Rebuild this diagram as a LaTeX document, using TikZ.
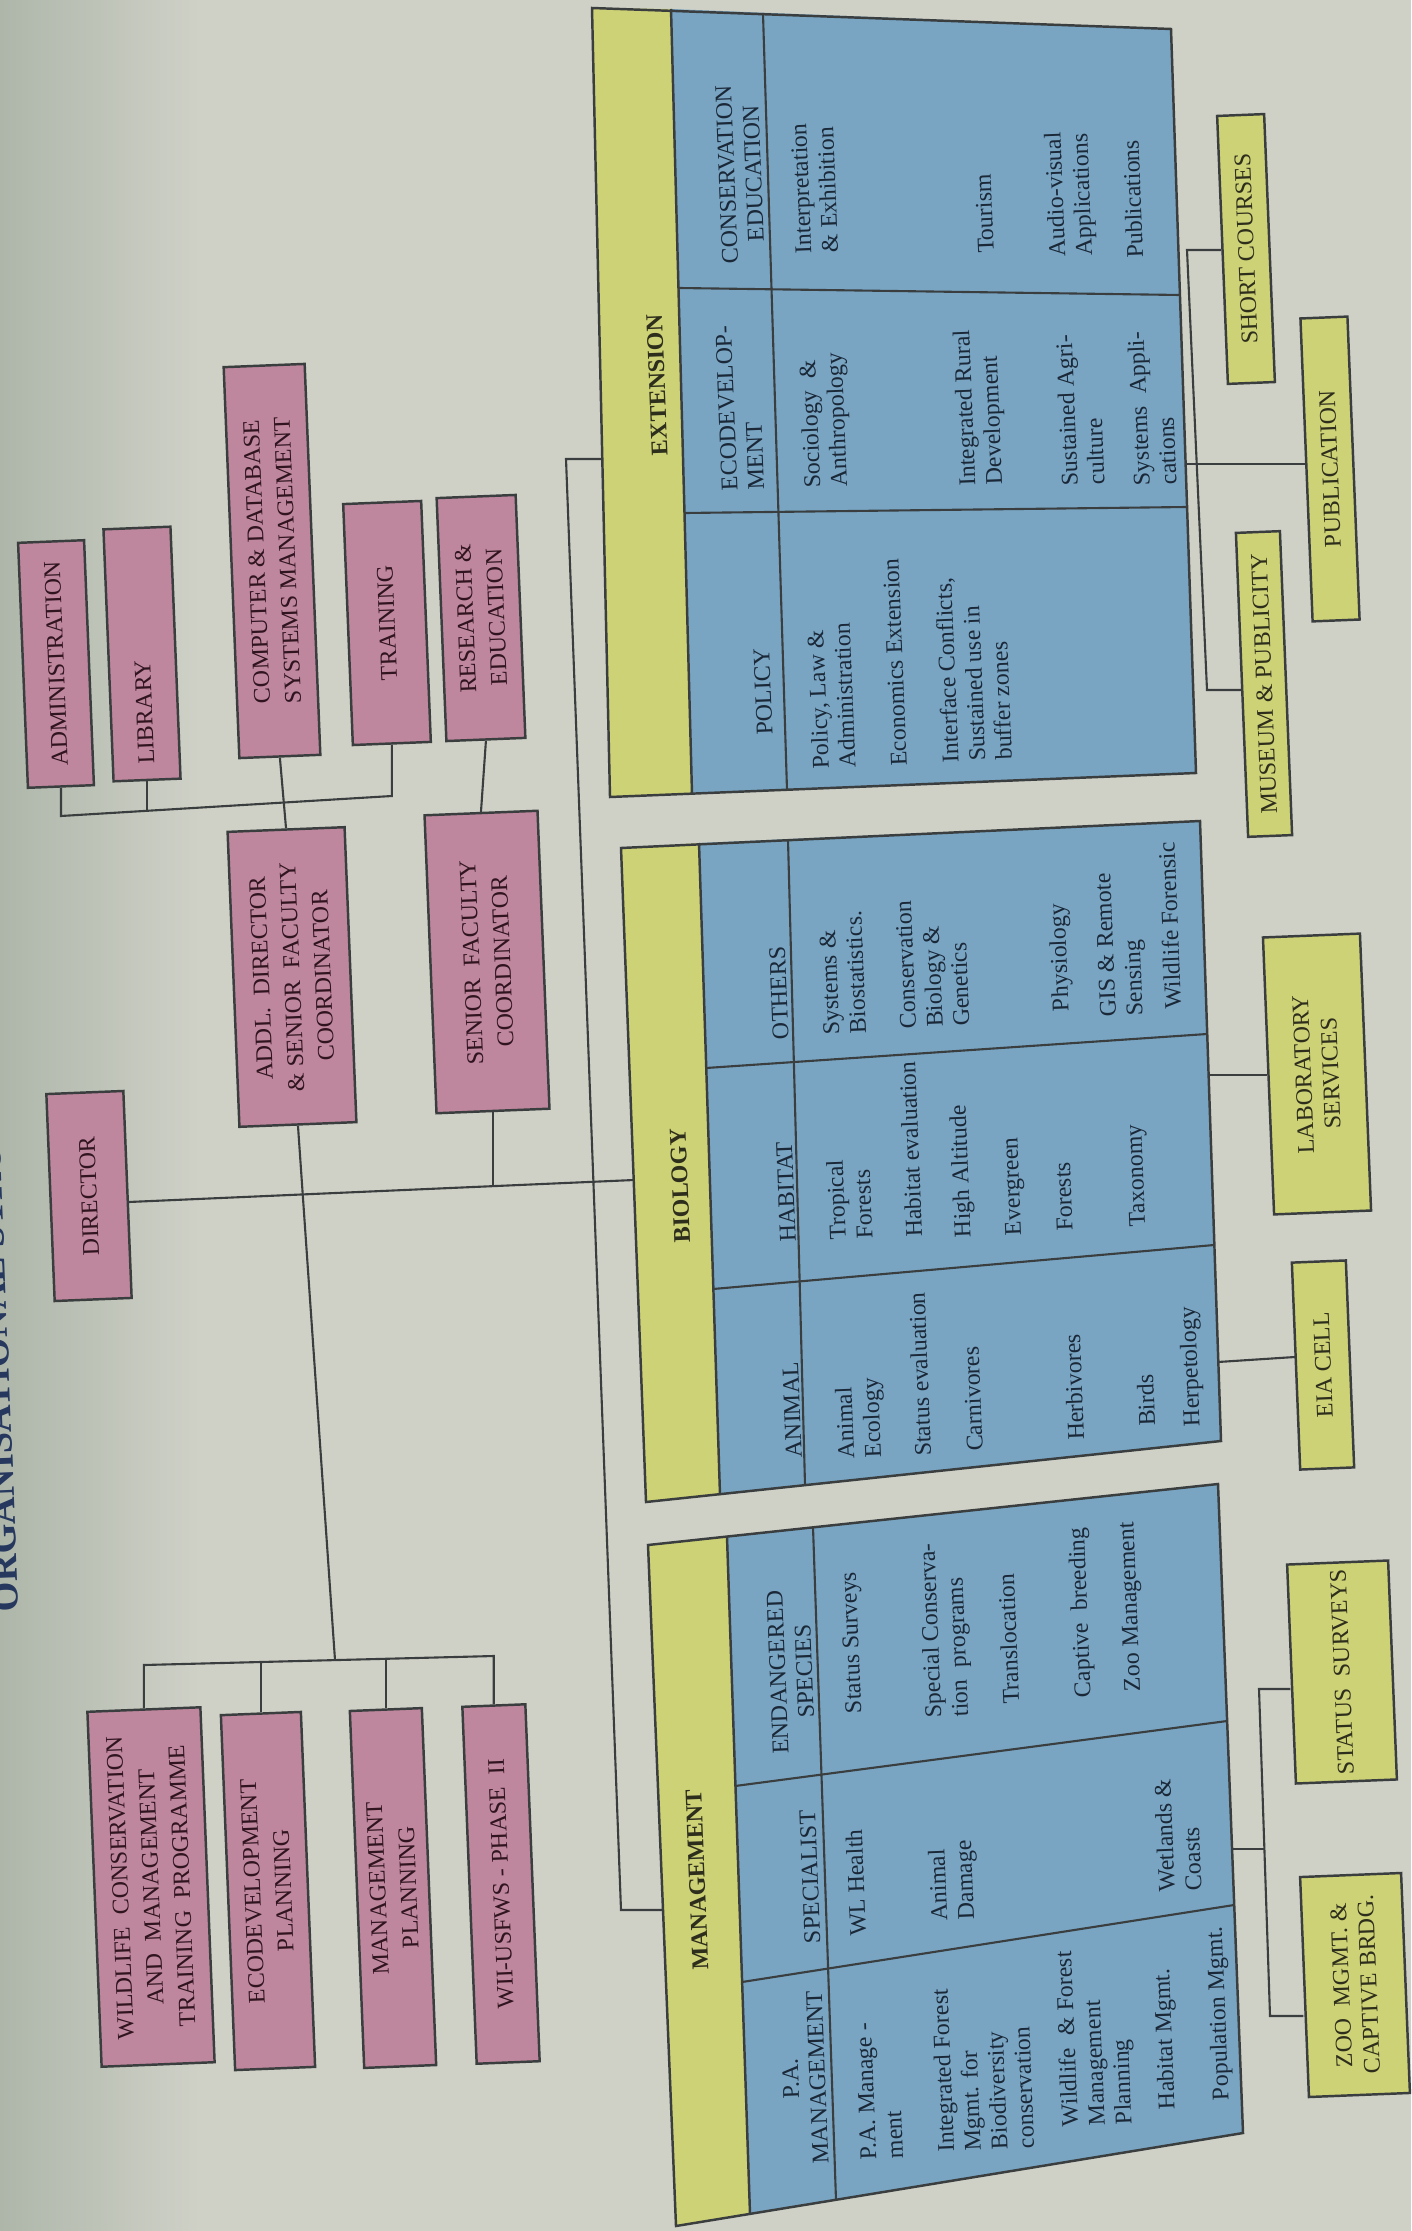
\documentclass[tikz,border=0pt]{standalone}
\usepackage{fontspec}
\setmainfont{Liberation Serif}
\definecolor{bgc}{HTML}{CFD1C7}
\definecolor{bgl}{HTML}{AEB6AA}
\definecolor{pinkc}{HTML}{BF879D}
\definecolor{ylwc}{HTML}{CDD276}
\definecolor{bluec}{HTML}{79A5C3}
\definecolor{linec}{HTML}{3A3E3E}
\definecolor{pinktext}{HTML}{30141F}
\definecolor{bluetext}{HTML}{1A2838}
\definecolor{ylwtext}{HTML}{2E2E1C}
\definecolor{titlec}{HTML}{26385E}
\tikzset{
  ln/.style={draw=linec, line width=0.6pt},
  blk/.style={draw=linec, line width=0.7pt, line join=miter},
  pinkbox/.style={draw=linec, line width=0.7pt, fill=pinkc, rotate=92.3, inner sep=0pt, align=center, text=pinktext, font=\fontsize{6.8pt}{8.8pt}\selectfont},
  ylwbox/.style={draw=linec, line width=0.7pt, fill=ylwc, rotate=92.3, inner sep=0pt, align=center, text=ylwtext, font=\fontsize{6.8pt}{7.8pt}\selectfont},
  item/.style={rotate=92.3, anchor=west, align=left, inner sep=0pt, text=bluetext, font=\fontsize{6.8pt}{7.6pt}\selectfont},
  hdr/.style={rotate=92.3, align=center, inner sep=0pt, text=bluetext, font=\fontsize{6.8pt}{7.6pt}\selectfont},
  ttl/.style={rotate=92.3, inner sep=0pt, text=ylwtext, font=\bfseries\fontsize{6.8pt}{8pt}\selectfont},
  headline/.style={rotate=92.3, anchor=base west, inner sep=0pt, text=titlec, font=\bfseries\fontsize{10.9pt}{12pt}\selectfont},
}
\begin{document}
\begin{tikzpicture}[x=0.01cm,y=-0.01cm]
\useasboundingbox (0,0) rectangle (1411,2231);
\fill[bgc] (0,0) rectangle (1411,2231);
\shade[left color=bgl, right color=bgc] (0,0) rectangle (200,2231);

% title (cut by the page edge, as in the photograph)
\node[headline] (title) at (19,1612) {ORGANISATIONAL STRUCTURE};

% ---------------- EXTENSION block ----------------
\coordinate (E1) at (592,8);
\coordinate (E2) at (671,9);
\coordinate (E3) at (1171,29);
\coordinate (E4) at (1196,773);
\coordinate (E5) at (692,794);
\coordinate (E6) at (610,797);
\fill[ylwc] (E1) -- (E2) -- (E5) -- (E6) -- cycle;
\fill[bluec] (E2) -- (E3) -- (E4) -- (E5) -- cycle;
\draw[blk] (E1) -- (E3) -- (E4) -- (E6) -- cycle;
\draw[blk] (E2) -- (E5);
\draw[ln] (763,14) -- (787,790);
\draw[ln] (679,288) -- (1180,295);
\draw[ln] (685,513) -- (1187,507);

\node[ttl] (extT) at (657,385) {EXTENSION};
\node[hdr] (extH1) at (740,174) {CONSERVATION\\EDUCATION};
\node[item] (extH2) at (743,491) {ECODEVELOP-\\MENT};
\node[hdr] (extH3) at (763,692) {POLICY};
\node[item] (x1) at (817,254) {Interpretation\\\& Exhibition};
\node[item] (x2) at (986,254) {Tourism};
\node[item] (x3) at (1073,257) {Audio-visual\\Applications};
\node[item] (x4) at (1135,259) {Publications};
\node[item] (x5) at (828,488) {Sociology \ \&\\Anthropology};
\node[item] (x6) at (983,486) {Integrated Rural\\Development};
\node[item] (x7) at (1083,486) {Sustained Agri-\\culture};
\node[item] (x8) at (1155,486) {Systems \ Appli-\\cations};
\node[item] (x9) at (834,769) {Policy, Law \&\\Administration};
\node[item] (x10) at (899,767) {Economics Extension};
\node[item] (x11) at (977,762) {Interface Conflicts,\\Sustained use in\\buffer zones};

% ---------------- BIOLOGY block ----------------
\coordinate (B1) at (621,848);
\coordinate (B2) at (699,843);
\coordinate (B3) at (1200,821);
\coordinate (B4) at (1221,1441);
\coordinate (B5) at (720,1495);
\coordinate (B6) at (646,1502);
\fill[ylwc] (B1) -- (B2) -- (B5) -- (B6) -- cycle;
\fill[bluec] (B2) -- (B3) -- (B4) -- (B5) -- cycle;
\draw[blk] (B1) -- (B3) -- (B4) -- (B6) -- cycle;
\draw[blk] (B2) -- (B5);
\draw[ln] (788,840) -- (805,1485);
\draw[ln] (706,1068) -- (1207,1034);
\draw[ln] (713,1289) -- (1214,1245);

\node[ttl] (bioT) at (680,1186) {BIOLOGY};
\node[hdr] (bH1) at (779,993) {OTHERS};
\node[hdr] (bH2) at (786,1192) {HABITAT};
\node[hdr] (bH3) at (792,1410) {ANIMAL};
\node[item] (a1) at (862,1459) {Animal\\Ecology};
\node[item] (a2) at (923,1457) {Status evaluation};
\node[item] (a3) at (975,1452) {Carnivores};
\node[item] (a4) at (1076,1441) {Herbivores};
\node[item] (a5) at (1147,1427) {Birds};
\node[item] (a6) at (1194,1427) {Herpetology};
\node[item] (h1) at (851,1240) {Tropical\\Forests};
\node[item] (h2) at (914,1238) {Habitat evaluation};
\node[item] (h3) at (965,1238) {High Altitude};
\node[item] (h4) at (1016,1236) {Evergreen};
\node[item] (h5) at (1065,1232) {Forests};
\node[item] (h6) at (1140,1227) {Taxonomy};
\node[item] (o1) at (845,1035) {Systems \&\\Biostatistics.};
\node[item] (o2) at (935,1028) {Conservation\\Biology \&\\Genetics};
\node[item] (o3) at (1063,1012) {Physiology};
\node[item] (o4) at (1124,1017) {GIS \& Remote\\Sensing};
\node[item] (o5) at (1173,1010) {Wildlife Forensic};

% ---------------- MANAGEMENT block ----------------
\coordinate (M1) at (648,1545);
\coordinate (M2) at (727,1537);
\coordinate (M3) at (1218,1484);
\coordinate (M4) at (1243,2133);
\coordinate (M5) at (750,2214);
\coordinate (M6) at (676,2226);
\fill[ylwc] (M1) -- (M2) -- (M5) -- (M6) -- cycle;
\fill[bluec] (M2) -- (M3) -- (M4) -- (M5) -- cycle;
\draw[blk] (M1) -- (M3) -- (M4) -- (M6) -- cycle;
\draw[blk] (M2) -- (M5);
\draw[ln] (813,1527) -- (836,2200);
\draw[ln] (735,1786) -- (1227,1721);
\draw[ln] (742,1982) -- (1234,1905);

\node[ttl] (mgT) at (697,1880) {MANAGEMENT};
\node[hdr] (mH1) at (791,1672) {ENDANGERED\\SPECIES};
\node[hdr] (mH2) at (810,1877) {SPECIALIST};
\node[hdr] (mH3) at (804,2078) {P.A.\\MANAGEMENT};
\node[item] (p1) at (882,2160) {P.A. Manage -\\ment};
\node[item] (p2) at (986,2151) {Integrated Forest\\Mgmt. for\\Biodiversity\\conservation};
\node[item] (p3) at (1099,2126) {Wildlife \ \& Forest\\Management\\Planning};
\node[item] (p4) at (1169,2110) {Habitat Mgmt.};
\node[item] (p5) at (1223,2101) {Population Mgmt.};
\node[item] (s1) at (858,1937) {WL Health};
\node[item] (s2) at (955,1921) {Animal\\Damage};
\node[item] (s3) at (1180,1892) {Wetlands \&\\Coasts};
\node[item] (d1) at (856,1714) {Status Surveys};
\node[item] (d2) at (949,1718) {Special Conserva-\\tion \ programs};
\node[item] (d3) at (1011,1705) {Translocation};
\node[item] (d4) at (1085,1698) {Captive \ breeding};
\node[item] (d5) at (1135,1692) {Zoo Management};

% ---------------- pink boxes ----------------
\node[pinkbox, minimum width=2.45cm, minimum height=0.66cm] (admin) at (56,664) {ADMINISTRATION};
\node[pinkbox, minimum width=2.52cm, minimum height=0.67cm, text width=2.2cm, align=left] (lib) at (142,654) {LIBRARY};
\node[pinkbox, minimum width=3.91cm, minimum height=0.81cm] (comp) at (272,561) {COMPUTER \& DATABASE\\SYSTEMS MANAGEMENT};
\node[pinkbox, minimum width=2.41cm, minimum height=0.78cm] (train) at (387,623) {TRAINING};
\node[pinkbox, minimum width=2.43cm, minimum height=0.79cm] (res) at (481,618) {RESEARCH \&\\EDUCATION};
\node[pinkbox, minimum width=2.07cm, minimum height=0.77cm] (dir) at (89,1196) {DIRECTOR};
\node[pinkbox, minimum width=2.95cm, minimum height=1.17cm] (addl) at (292,977) {ADDL. \ DIRECTOR\\\& SENIOR \ FACULTY\\COORDINATOR};
\node[pinkbox, minimum width=2.98cm, minimum height=1.13cm] (sen) at (487,962) {SENIOR \ FACULTY\\COORDINATOR};
\node[pinkbox, minimum width=3.55cm, minimum height=1.13cm] (wild) at (151,1887) {WILDLIFE \ CONSERVATION\\AND \ MANAGEMENT\\TRAINING \ PROGRAMME};
\node[pinkbox, minimum width=3.55cm, minimum height=0.80cm] (eco) at (268,1891) {ECODEVELOPMENT\\PLANNING};
\node[pinkbox, minimum width=3.57cm, minimum height=0.72cm] (mplan) at (393,1888) {MANAGEMENT\\PLANNING};
\node[pinkbox, minimum width=3.57cm, minimum height=0.63cm] (wii) at (501,1884) {WII-USFWS - PHASE \ II};

% ---------------- yellow boxes ----------------
\node[ylwbox, minimum width=2.68cm, minimum height=0.47cm] (short) at (1246,249) {SHORT COURSES};
\node[ylwbox, minimum width=3.03cm, minimum height=0.47cm] (pub) at (1330,469) {PUBLICATION};
\node[ylwbox, minimum width=3.04cm, minimum height=0.44cm] (mus) at (1264,684) {MUSEUM \& PUBLICITY};
\node[ylwbox, minimum width=2.77cm, minimum height=0.97cm] (lab) at (1317,1074) {LABORATORY\\SERVICES};
\node[ylwbox, minimum width=2.07cm, minimum height=0.54cm] (eia) at (1323,1365) {EIA CELL};
\node[ylwbox, minimum width=2.19cm, minimum height=1.01cm] (stat) at (1342,1672) {STATUS \ SURVEYS};
\node[ylwbox, minimum width=2.20cm, minimum height=1.01cm] (zoo) at (1355,1985) {ZOO \ MGMT. \&\\CAPTIVE BRDG.};

% ---------------- connectors ----------------
% top bus
\draw[ln] (admin.west) -- (admin.west |- 0,816) -- (train.west |- 0,796) -- (train.west);
\draw[ln] (lib.west) -- (lib.west |- 0,811);
\draw[ln] (comp.west) -- (addl.east);
\draw[ln] (res.west) -- (sen.east);
% director line
\coordinate (bioL) at (634,1180);
\draw[ln] (dir.south |- 0,1202) -- (bioL);
\draw[ln] (sen.west) -- (sen.west |- 0,1186);
% lower bus
\coordinate (bj) at (335,1660);
\draw[ln] (addl.west) -- (bj);
\draw[ln] (wild.east) -- (wild.east |- 0,1665) -- (wii.east |- 0,1656) -- (wii.east);
\draw[ln] (eco.east) -- (eco.east |- 0,1662);
\draw[ln] (mplan.east) -- (mplan.east |- 0,1659);
% spine to EXTENSION and MANAGEMENT
\coordinate (extL) at (602,459);
\coordinate (sp1) at (566,459);
\coordinate (sp2) at (621,1910);
\coordinate (mgL) at (663,1910);
\draw[ln] (extL) -- (sp1) -- (sp2) -- (mgL);
% EXTENSION outputs
\coordinate (sv1) at (1187,250);
\coordinate (sv2) at (1207,690);
\draw[ln] (short.north) -- (sv1) -- (sv2) -- (mus.north |- 0,690);
\coordinate (extR) at (1186,464);
\draw[ln] (extR) -- (pub.north |- 0,464);
% BIOLOGY outputs
\coordinate (bioR1) at (1209,1075);
\draw[ln] (bioR1) -- (lab.north |- 0,1075);
\coordinate (bioR2) at (1218,1362);
\draw[ln] (bioR2) -- (eia.north |- 0,1357);
% MANAGEMENT outputs
\coordinate (mgR) at (1232,1849);
\coordinate (mv0) at (1264,1849);
\coordinate (mv1) at (1259,1689);
\coordinate (mv2) at (1270,2016);
\draw[ln] (mgR) -- (mv0);
\draw[ln] (stat.north |- 0,1689) -- (mv1) -- (mv2) -- (zoo.north |- 0,2016);
\end{tikzpicture}
\end{document}
